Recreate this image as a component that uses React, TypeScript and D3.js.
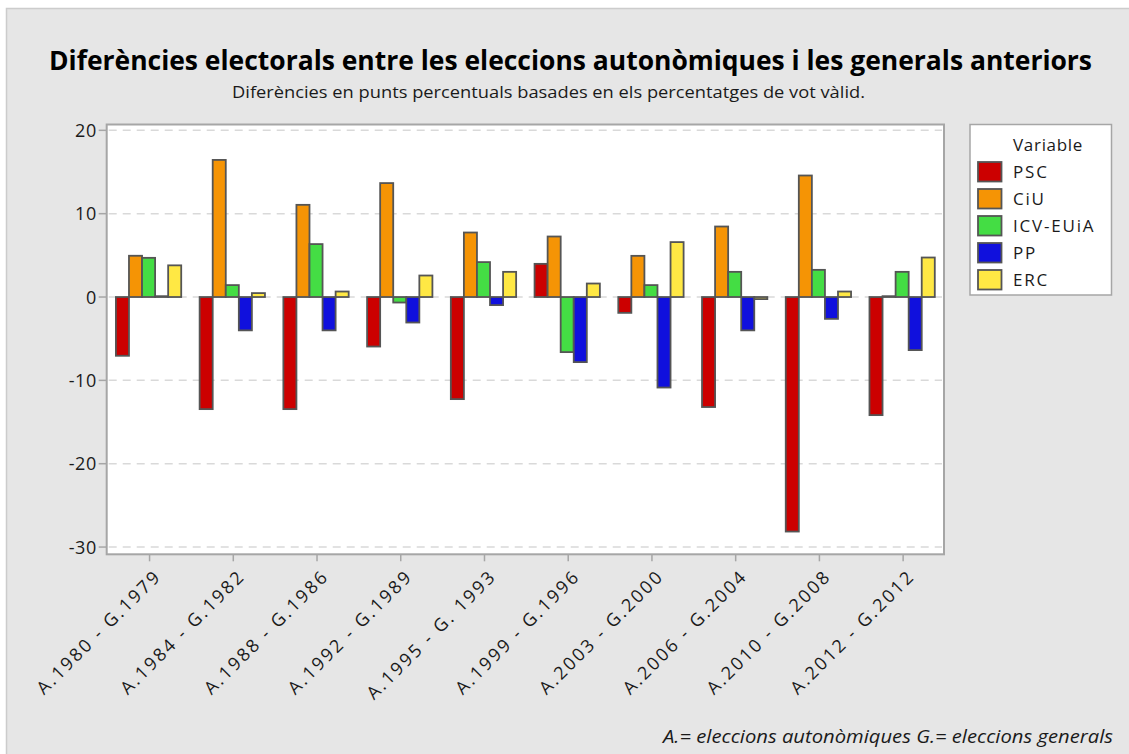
import React from "react";
import * as d3 from "d3";

const categories = [
  "A.1980 - G.1979",
  "A.1984 - G.1982",
  "A.1988 - G.1986",
  "A.1992 - G.1989",
  "A.1995 - G. 1993",
  "A.1999 - G.1996",
  "A.2003 - G.2000",
  "A.2006 - G.2004",
  "A.2010 - G.2008",
  "A.2012 - G.2012",
];

const seriesNames = ["PSC", "CiU", "ICV-EUiA", "PP", "ERC"];
const seriesColors = ["#cc0000", "#f59405", "#44dd44", "#1010dd", "#ffe844"];

const PSC = [-7.05, -13.45, -13.45, -5.94, -12.25, 3.98, -1.9, -13.2, -28.14, -14.17];
const CiU = [4.95, 16.45, 11.06, 13.67, 7.74, 7.26, 4.94, 8.46, 14.58, 0.1];
const ICV = [4.7, 1.43, 6.35, -0.66, 4.19, -6.61, 1.43, 3.02, 3.26, 3.02];
const PP = [0.1, -4.0, -4.0, -3.06, -0.97, -7.81, -10.86, -4.0, -2.62, -6.37];
const ERC = [3.8, 0.47, 0.66, 2.58, 3.02, 1.62, 6.59, -0.25, 0.66, 4.74];

const seriesValues = [PSC, CiU, ICV, PP, ERC];
const yTicks = [20, 10, 0, -10, -20, -30];

const W = 1129;
const H = 754;
const plot = { left: 106.7, right: 944, top: 124.5, bottom: 554.3 };
const FONT = "'Open Sans', 'Noto Sans', 'DejaVu Sans', sans-serif";

export default function App() {
  const x0 = d3
    .scaleBand<string>()
    .domain(categories)
    .range([plot.left, plot.right])
    .paddingInner(0.22)
    .paddingOuter(0.11);
  const x1 = d3
    .scaleBand<string>()
    .domain(seriesNames)
    .range([0, x0.bandwidth()]);
  const y = d3.scaleLinear().domain([-30.87, 20.7]).range([plot.bottom, plot.top]);

  return (
    <svg
      width={W}
      height={H}
      style={{ position: "absolute", left: 0, top: 0, display: "block" }}
      fontFamily={FONT}
    >
      <rect x={0} y={0} width={W} height={H} fill="#ffffff" />
      <rect x={6.5} y={8.5} width={W + 10} height={H + 10} fill="#e6e6e6" stroke="#cccccc" strokeWidth={1.5} />

      <text
        x={570.5}
        y={70}
        textAnchor="middle"
        fontSize={26}
        fontWeight="bold"
        fill="#000"
        textLength={1043}
        lengthAdjust="spacingAndGlyphs"
      >
        Diferències electorals entre les eleccions autonòmiques i les generals anteriors
      </text>
      <text
        x={548.5}
        y={98}
        textAnchor="middle"
        fontSize={17}
        fill="#1a1a1a"
        textLength={633}
        lengthAdjust="spacingAndGlyphs"
      >
        Diferències en punts percentuals basades en els percentatges de vot vàlid.
      </text>

      {/* plot area */}
      <rect
        x={plot.left}
        y={plot.top}
        width={plot.right - plot.left}
        height={plot.bottom - plot.top}
        fill="#ffffff"
      />
      {yTicks.map((t) => (
        <line
          key={"g" + t}
          x1={plot.left + 2}
          x2={plot.right - 2}
          y1={y(t)}
          y2={y(t)}
          stroke="#d9d9d9"
          strokeWidth={1.5}
          strokeDasharray="8,6"
        />
      ))}

      {categories.map((c, i) => (
        <g key={c} transform={`translate(${x0(c)},0)`}>
          {seriesNames.map((s, k) => {
            const v = seriesValues[k][i];
            const yy = Math.min(y(v), y(0));
            const hh = Math.abs(y(v) - y(0));
            return (
              <rect
                key={s}
                x={x1(s)}
                y={yy}
                width={x1.bandwidth()}
                height={Math.max(hh, 0.3)}
                fill={seriesColors[k]}
                stroke="#555555"
                strokeWidth={1.8}
              />
            );
          })}
        </g>
      ))}

      <rect
        x={plot.left}
        y={plot.top}
        width={plot.right - plot.left}
        height={plot.bottom - plot.top}
        fill="none"
        stroke="#a6a6a6"
        strokeWidth={2}
      />

      {/* y axis */}
      {yTicks.map((t) => (
        <g key={"y" + t}>
          <line x1={plot.left - 8} x2={plot.left} y1={y(t)} y2={y(t)} stroke="#a6a6a6" strokeWidth={1.5} />
          <text
            x={plot.left - 10}
            y={y(t)}
            dy="0.36em"
            textAnchor="end"
            fontSize={18}
            fill="#1a1a1a"
            letterSpacing={0.5}
          >
            {t}
          </text>
        </g>
      ))}

      {/* x axis */}
      {categories.map((c) => {
        const cx = (x0(c) as number) + x0.bandwidth() / 2 + 1;
        return (
          <g key={"x" + c}>
            <line x1={cx} x2={cx} y1={plot.bottom} y2={plot.bottom + 7} stroke="#a6a6a6" strokeWidth={1.5} />
            <text
              transform={`translate(${cx + 4},${plot.bottom + 14}) rotate(-45)`}
              textAnchor="end"
              dy="0.7em"
              fontSize={18}
              letterSpacing={2.4}
              fill="#1a1a1a"
            >
              {c}
            </text>
          </g>
        );
      })}

      {/* legend */}
      <rect x={970} y={124.5} width={141.5} height={170.5} fill="#ffffff" stroke="#a6a6a6" strokeWidth={1.5} />
      <text x={1013} y={150.5} fontSize={17} fill="#1a1a1a" letterSpacing={0.7}>
        Variable
      </text>
      {seriesNames.map((s, k) => {
        const top = 162 + k * 27;
        return (
          <g key={"l" + s}>
            <rect x={978} y={top} width={23.5} height={19.5} fill={seriesColors[k]} stroke="#555555" strokeWidth={1.8} />
            <text x={1013} y={top + 16} fontSize={17} fill="#1a1a1a" letterSpacing={1.8}>
              {s}
            </text>
          </g>
        );
      })}

      <text
        x={1113}
        y={743}
        textAnchor="end"
        fontSize={18}
        fontStyle="italic"
        fill="#1a1a1a"
        textLength={450}
        lengthAdjust="spacingAndGlyphs"
      >
        A.= eleccions autonòmiques G.= eleccions generals
      </text>
    </svg>
  );
}
